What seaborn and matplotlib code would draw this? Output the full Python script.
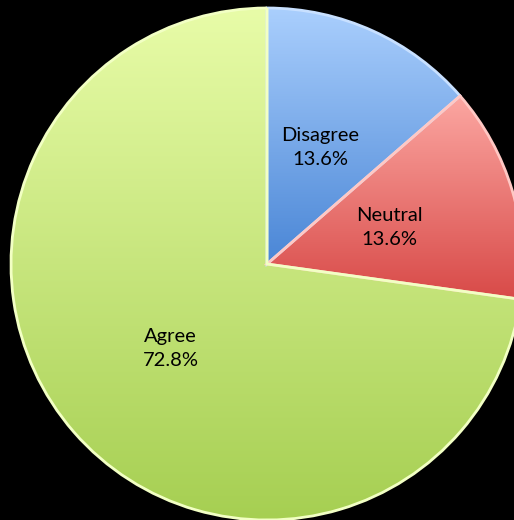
import numpy as np
import matplotlib
matplotlib.use("Agg")
import matplotlib.pyplot as plt
from matplotlib.colors import LinearSegmentedColormap
import seaborn as sns

# 설문 응답 비율 (%)
labels = ["Disagree", "Neutral", "Agree"]
values = [13.6, 13.6, 72.8]
top_colors = ["#aacffd", "#fca7a2", "#e8fca8"]
bottom_colors = ["#4a86d6", "#d84a48", "#a6cf52"]
edge_colors = ["#c8e0ff", "#ffc8c4", "#f2ffc4"]

sns.set_theme(style="white")
plt.rcParams["font.family"] = ["Lato", "DejaVu Sans"]

fig = plt.figure(figsize=(5.14, 5.20), dpi=100, facecolor="black")
ax = fig.add_axes([0, 0, 1, 1])
ax.set_facecolor("black")

cx, cy, r = 267, 256, 256
wedges, texts = ax.pie(values, colors=top_colors, startangle=90, counterclock=False,
                       radius=r, center=(cx, cy), labels=None,
                       wedgeprops=dict(linewidth=2))

for w, c1, c2, ec in zip(wedges, top_colors, bottom_colors, edge_colors):
    w.set_edgecolor(ec)
    # 부채꼴마다 위→아래 그라데이션
    bb = w.get_path().get_extents(w.get_patch_transform())
    cmap = LinearSegmentedColormap.from_list("g", [c2, c1])
    grad = np.linspace(0, 1, 256).reshape(-1, 1)
    im = ax.imshow(grad, cmap=cmap, origin="lower", aspect="auto",
                   extent=[bb.x0, bb.x1, bb.y0, bb.y1], zorder=w.get_zorder() + 0.1)
    im.set_clip_path(w)
    w.set_zorder(w.get_zorder() + 0.2)
    w.set_facecolor("none")

# 라벨
ang = 90.0
for lab, v in zip(labels, values):
    theta = np.deg2rad(ang - v * 3.6 / 2)
    ang -= v * 3.6
    x = cx + 0.5 * r * np.cos(theta)
    y = cy + 0.5 * r * np.sin(theta)
    ax.text(x, y, "{}\n{:.1f}%".format(lab, v), ha="center", va="center",
            fontsize=14.5, color="black", linespacing=1.5, zorder=10)

ax.set_xlim(0, 514)
ax.set_ylim(0, 520)
ax.set_aspect("equal")
ax.axis("off")

fig.savefig("out.png", dpi=100, facecolor="black")
